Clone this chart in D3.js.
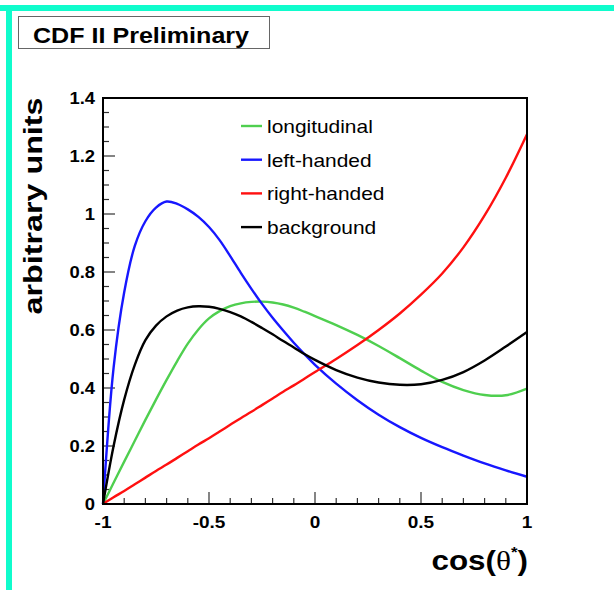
<!DOCTYPE html>
<html>
<head>
<meta charset="utf-8">
<script src="https://cdn.jsdelivr.net/npm/d3@7"></script>
<style>
    body { margin: 0; background: white; }
    text { font-family: 'Liberation Sans', Arial, Helvetica, sans-serif; }
</style>
</head>
<body>
<svg id="canvas" width="614" height="590"></svg>
<script>
// cos(theta*) grid, shared by every curve
let cosTheta = [-1, -0.95, -0.9, -0.85, -0.8, -0.75, -0.7, -0.65, -0.6, -0.55, -0.5,
                -0.45, -0.4, -0.35, -0.3, -0.25, -0.2, -0.15, -0.1, -0.05, 0,
                0.1, 0.2, 0.3, 0.4, 0.5, 0.6, 0.7, 0.8, 0.9, 1];

let longitudinal = [0, 0.073, 0.146, 0.218, 0.29, 0.36, 0.428, 0.493, 0.553, 0.602, 0.64,
                    0.665, 0.682, 0.692, 0.697, 0.698, 0.695, 0.688, 0.677, 0.663, 0.648,
                    0.617, 0.583, 0.545, 0.503, 0.46, 0.421, 0.393, 0.376, 0.375, 0.398];

let leftHanded = [0, 0.47, 0.73, 0.89, 0.975, 1.022, 1.043, 1.035, 1.016, 0.99, 0.955,
                  0.91, 0.855, 0.797, 0.742, 0.69, 0.642, 0.598, 0.556, 0.517, 0.48,
                  0.415, 0.358, 0.308, 0.265, 0.228, 0.196, 0.167, 0.14, 0.116, 0.094];

let rightHanded = [0, 0.023, 0.045, 0.068, 0.091, 0.114, 0.136, 0.159, 0.182, 0.205, 0.227,
                   0.25, 0.273, 0.296, 0.318, 0.341, 0.364, 0.387, 0.409, 0.432, 0.455,
                   0.5, 0.548, 0.6, 0.657, 0.722, 0.795, 0.885, 0.995, 1.125, 1.275];

let background = [0, 0.2, 0.36, 0.48, 0.565, 0.615, 0.647, 0.667, 0.678, 0.682, 0.68,
                  0.673, 0.662, 0.647, 0.628, 0.607, 0.585, 0.562, 0.54, 0.517, 0.497,
                  0.462, 0.436, 0.419, 0.411, 0.413, 0.428, 0.455, 0.495, 0.543, 0.593];

let seriesNames = ['longitudinal', 'left-handed', 'right-handed', 'background'];
let seriesColors = ['#4fcf4f', '#1717ff', '#ff1010', '#000000'];
let seriesValues = [longitudinal, leftHanded, rightHanded, background];

let xTickLabels = ['-1', '-0.5', '0', '0.5', '1'];
let yTickLabels = ['0', '0.2', '0.4', '0.6', '0.8', '1', '1.2', '1.4'];

let canvas = d3.select('#canvas');

let plotLeft = 103, plotRight = 527, plotTop = 98, plotBottom = 504;

let xScale = d3.scaleLinear().domain([-1, 1]).range([plotLeft, plotRight]);
let yScale = d3.scaleLinear().domain([0, 1.4]).range([plotBottom, plotTop]);

// the original text is a bit wider than Liberation Sans, so stretch it
let stretch = (sel, k) => {
    sel.each(function () {
        let w = this.getComputedTextLength();
        d3.select(this).attr('textLength', w * k).attr('lengthAdjust', 'spacingAndGlyphs');
    });
};

let drawFrame = () => {
    // cyan border on top and left
    canvas.append('rect').attr('x', 0).attr('y', 5).attr('width', 614).attr('height', 6).attr('fill', '#10fccc');
    canvas.append('rect').attr('x', 6).attr('y', 5).attr('width', 6).attr('height', 585).attr('fill', '#10fccc');

    // title box
    canvas.append('rect')
        .attr('x', 18.5).attr('y', 16.5).attr('width', 251).attr('height', 32)
        .attr('fill', 'white').attr('stroke', '#666').attr('stroke-width', 1);
    canvas.append('text')
        .text('CDF II Preliminary')
        .attr('x', 33).attr('y', 43)
        .style('font-size', '22px').style('font-weight', 'bold')
        .call(stretch, 1.14);
};

let drawAxes = () => {
    let g = canvas.append('g');

    // x ticks pointing inward
    let xMinor = d3.range(-10, 11).map(i => i / 10);
    g.selectAll('.xtick')
        .data(xMinor)
        .enter()
        .append('line')
        .attr('x1', d => xScale(d)).attr('x2', d => xScale(d))
        .attr('y1', plotBottom)
        .attr('y2', (d, i) => plotBottom - (i % 5 === 0 ? 12 : 6))
        .attr('stroke', '#333').attr('stroke-width', 1.2);

    let yMinor = d3.range(0, 29).map(i => i * 0.05);
    g.selectAll('.ytick')
        .data(yMinor)
        .enter()
        .append('line')
        .attr('y1', d => yScale(d)).attr('y2', d => yScale(d))
        .attr('x1', plotLeft)
        .attr('x2', (d, i) => plotLeft + (i % 4 === 0 ? 12 : 6))
        .attr('stroke', '#333').attr('stroke-width', 1.2);

    g.selectAll('.xlabel')
        .data(xTickLabels)
        .enter()
        .append('text')
        .text(d => d)
        .attr('x', d => xScale(+d))
        .attr('y', 528)
        .attr('text-anchor', 'middle')
        .style('font-size', '16.5px').style('font-weight', 'bold')
        .call(stretch, 1.15);

    g.selectAll('.ylabel')
        .data(yTickLabels)
        .enter()
        .append('text')
        .text(d => d)
        .attr('x', 95)
        .attr('y', d => yScale(+d) + 5.5)
        .attr('text-anchor', 'end')
        .style('font-size', '16px').style('font-weight', 'bold')
        .call(stretch, 1.15);

    canvas.append('text')
        .text('arbitrary units')
        .attr('transform', 'translate(42,206) rotate(-90)')
        .attr('text-anchor', 'middle')
        .style('font-size', '26px').style('font-weight', 'bold')
        .attr('textLength', 217).attr('lengthAdjust', 'spacingAndGlyphs');

    let xTitle = canvas.append('text')
        .attr('x', 528).attr('y', 570)
        .attr('text-anchor', 'end')
        .style('font-size', '28px').style('font-weight', 'bold');
    xTitle.append('tspan').text('cos(');
    xTitle.append('tspan').text('θ')
        .style('font-family', "'Liberation Serif', 'DejaVu Serif', serif")
        .style('font-weight', 'normal');
    xTitle.append('tspan').text('*').attr('dy', -13).style('font-size', '15px');
    xTitle.append('tspan').text(')').attr('dy', 13);
    xTitle.call(stretch, 1.12);
};

let drawCurves = () => {
    let line = d3.line()
        .x((d, i) => xScale(cosTheta[i]))
        .y(d => yScale(d))
        .curve(d3.curveCatmullRom.alpha(0.5));

    let plot = canvas.append('g');
    plot.selectAll('path')
        .data(seriesValues)
        .enter()
        .append('path')
        .attr('d', d => line(d))
        .attr('fill', 'none')
        .attr('stroke', (d, i) => seriesColors[i])
        .attr('stroke-width', 2.4);

    // frame drawn on top of the curves
    canvas.append('rect')
        .attr('x', plotLeft).attr('y', plotTop)
        .attr('width', plotRight - plotLeft).attr('height', plotBottom - plotTop)
        .attr('fill', 'none').attr('stroke', 'black').attr('stroke-width', 2);
};

let drawLegend = () => {
    let legendGroup = canvas.selectAll('.legend')
        .data(seriesNames)
        .enter()
        .append('g')
        .attr('transform', (d, i) => `translate(241, ${126 + i * 33.7})`);

    legendGroup.append('line')
        .attr('x1', 0).attr('x2', 21)
        .attr('y1', 0).attr('y2', 0)
        .attr('stroke', (d, i) => seriesColors[i])
        .attr('stroke-width', 2.4);

    legendGroup.append('text')
        .text(d => d)
        .attr('x', 26)
        .attr('y', 7)
        .style('font-size', '18.5px')
        .call(stretch, 1.13);
};

drawFrame();
drawAxes();
drawCurves();
drawLegend();
</script>
</body>
</html>
